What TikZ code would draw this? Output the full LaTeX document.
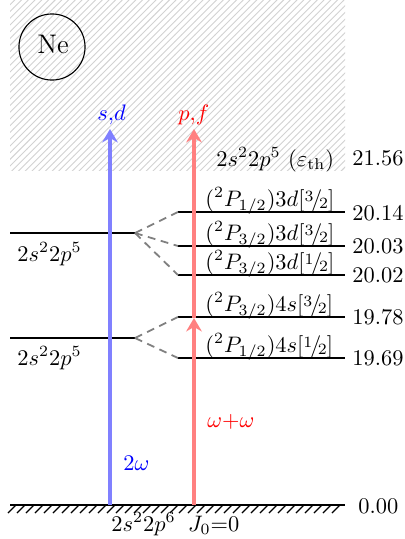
\documentclass[tikz,border=0pt]{standalone}
\usetikzlibrary{patterns,arrows.meta}
\newcommand{\hfr}[2]{\raise.5ex\hbox{$\scriptstyle #1$}\kern-.1em/\kern-.15em\lower.25ex\hbox{$\scriptstyle #2$}}
\begin{document}
\begin{tikzpicture}[x=0.4464pt,y=-0.4464pt,
  lvl/.style={line width=0.9pt},
  dsh/.style={gray, line width=0.8pt, dash pattern=on 3.5pt off 2.5pt},
  lab/.style={inner sep=0pt, anchor=base west},
  num/.style={inner sep=0pt, anchor=west},
  beam/.style={line width=1.8pt, -{Stealth[length=6pt,width=7pt,inset=2pt]}},
  hatch/.style={line width=0.5pt}]
\useasboundingbox (0,0) rectangle (405,539);
\fill[pattern=north east lines, pattern color=gray!35] (10,0) rectangle (345,170);
\node[draw, circle, line width=0.5pt, minimum size=29.5pt, inner sep=0pt] (ne) at (52,47) {};
\node[lab] (net) at (37,53) {\large Ne};
% left levels
\coordinate (L1a) at (10,233); \coordinate (L1b) at (135,233);
\coordinate (L2a) at (10,338); \coordinate (L2b) at (135,338);
\draw[lvl] (L1a) -- (L1b);
\draw[lvl] (L2a) -- (L2b);
\node[lab] (l1) at (17,261) {$2s^22p^5$};
\node[lab] (l2) at (17,365) {$2s^22p^5$};
% right levels
\foreach \n/\y in {a/212,b/246,c/275,d/317,e/358}{
  \coordinate (R\n a) at (178,\y); \coordinate (R\n b) at (345,\y);
  \draw[lvl] (R\n a) -- (R\n b);
}
\draw[dsh] (L1b) -- (Raa);
\draw[dsh] (L1b) -- (Rba);
\draw[dsh] (L1b) -- (Rca);
\draw[dsh] (L2b) -- (Rda);
\draw[dsh] (L2b) -- (Rea);
\node[lab] (ta) at (205,206) {$({}^2P_{1/2})3d[\hfr{3}{2}]$};
\node[lab] (tb) at (205,240) {$({}^2P_{3/2})3d[\hfr{3}{2}]$};
\node[lab] (tc) at (205,269) {$({}^2P_{3/2})3d[\hfr{1}{2}]$};
\node[lab] (td) at (205,311) {$({}^2P_{3/2})4s[\hfr{3}{2}]$};
\node[lab] (te) at (205,352) {$({}^2P_{1/2})4s[\hfr{1}{2}]$};
\node[num] (na) at (352,213) {20.14};
\node[num] (nb) at (352,246) {20.03};
\node[num] (nc) at (352,275) {20.02};
\node[num] (nd) at (352,317) {19.78};
\node[num] (nf) at (352,358) {19.69};
\node[num] (nth) at (352,158) {21.56};
\node[lab] (th) at (216,166) {$2s^22p^5$ ($\varepsilon_{\mathrm{th}}$)};
% ground
\coordinate (G0) at (10,505); \coordinate (G1) at (345,505);
\foreach \x in {8,17,...,336}{ \draw[hatch] (\x,513) -- (\x+8,505); }
\draw[lvl] (G0) -- (G1);
\node[num] (n0) at (358,506) {0.00};
\node[lab] (gs) at (111,531) {$2s^22p^6\;\;J_0{=}0$};
% beams
\coordinate (B0) at (110,505); \coordinate (B1) at (110,129);
\coordinate (P0) at (194,505); \coordinate (Pm) at (194,318); \coordinate (P1) at (194,129);
\draw[beam, blue!50] (B0) -- (B1);
\draw[beam, red!50] (P0) -- (Pm);
\draw[beam, red!50] (Pm) -- (P1);
\node[lab, text=blue] (sd) at (97,120) {$s{,}d$};
\node[lab, text=red] (pf) at (178,120) {$p{,}f$};
\node[lab, text=blue] (tw) at (123,470) {$2\omega$};
\node[lab, text=red] (ww) at (207,427) {$\omega{+}\omega$};
\end{tikzpicture}
\end{document}
